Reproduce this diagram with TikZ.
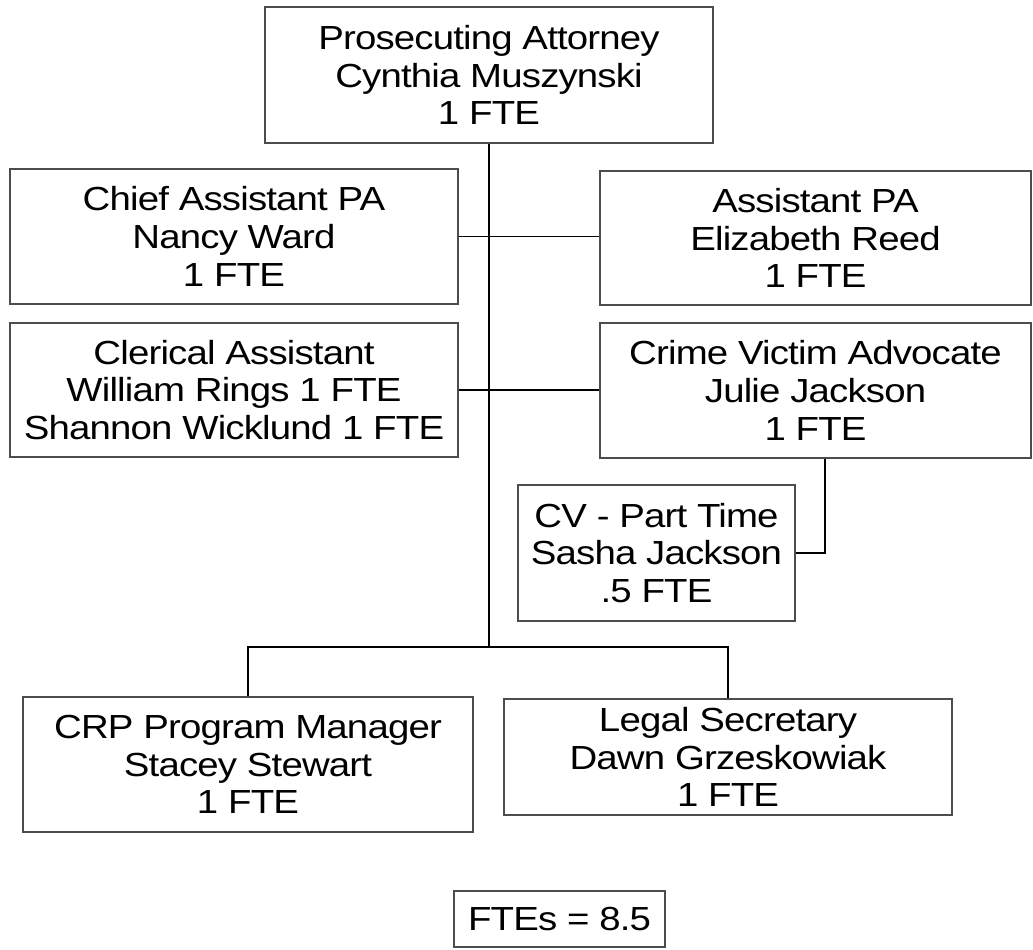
\documentclass[tikz,border=0pt]{standalone}
\usepackage{fontspec}
\setmainfont{Liberation Sans}[FakeStretch=1.15, LetterSpace=-2.5]
\usepackage{tikz}
\usetikzlibrary{positioning,calc}

\begin{document}
\begin{tikzpicture}[x=0.02cm, y=-0.02cm,
  font=\fontsize{19}{21.5}\selectfont,
  post/.style={draw=black!70, line width=0.9pt, align=center, inner sep=0pt},
  link/.style={black, line width=0.9pt}]
\useasboundingbox (0,0) rectangle (1033,949);

% the head of the office
\node[post, minimum width=8.96cm, minimum height=2.72cm] (pa) at (489,75)
  {Prosecuting Attorney\\ Cynthia Muszynski\\ 1 FTE};

% first row, either side of the trunk
\node[post, minimum width=8.96cm, minimum height=2.70cm] (chief) at (234,236.5)
  {Chief Assistant PA\\ Nancy Ward\\ 1 FTE};
\node[post, minimum width=8.62cm, minimum height=2.68cm] (asst) at (815.5,238)
  {Assistant PA\\ Elizabeth Reed\\ 1 FTE};

% second row
\node[post, minimum width=8.96cm, minimum height=2.68cm] (cler) at (234,390)
  {Clerical Assistant\\ William Rings 1 FTE\\ Shannon Wicklund 1 FTE};
\node[post, minimum width=8.62cm, minimum height=2.70cm] (cva) at (815.5,390.5)
  {Crime Victim Advocate\\ Julie Jackson\\ 1 FTE};
\node[post, minimum width=5.54cm, minimum height=2.72cm] (cvpt) at (656.5,553)
  {CV - Part Time\\ Sasha Jackson\\ .5 FTE};

% bottom row
\node[post, minimum width=9.00cm, minimum height=2.70cm] (crp) at (248,764.5)
  {CRP Program Manager\\ Stacey Stewart\\ 1 FTE};
\node[post, minimum width=8.96cm, minimum height=2.32cm] (legal) at (728,757)
  {Legal Secretary\\ Dawn Grzeskowiak\\ 1 FTE};

\node[post, minimum width=4.22cm, minimum height=1.12cm] (ftes) at (559.5,919)
  {FTEs = 8.5};

% connectors
\coordinate (bus) at (489,647);
\draw[link] (pa.south) -- (bus);
\draw[link] (chief.east) -- (chief.east -| asst.west);
\draw[link] (cler.east) -- (cler.east -| cva.west);
\draw[link] (cvpt.east) -| ([xshift=0.19cm]cva.south);
\draw[link] (crp.north) |- (bus) -| (legal.north);
\end{tikzpicture}
\end{document}
